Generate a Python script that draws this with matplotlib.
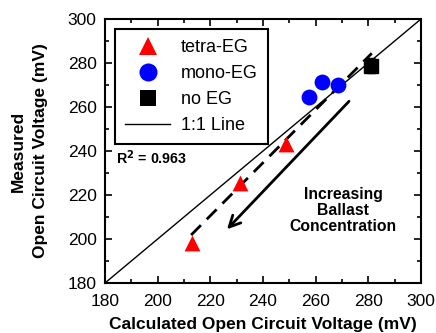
import matplotlib
matplotlib.use("Agg")
import matplotlib.pyplot as plt
from matplotlib.ticker import MultipleLocator
from matplotlib.lines import Line2D

plt.rcParams['font.family'] = ['Liberation Sans', 'DejaVu Sans']

tetra_x = [213.0, 231.3, 248.7]
tetra_y = [198.0, 225.5, 243.2]
mono_x = [257.3, 262.4, 268.5]
mono_y = [264.4, 271.4, 269.9]
noeg_x = [281.0]
noeg_y = [278.8]
noeg_err = [3.5]
line11 = [180, 300]
dash_x = [212.7, 281.3]
dash_y = [201.8, 284.4]
arrow_start = (273.4, 263.5)
arrow_end = (225.6, 203.5)

fig = plt.figure(figsize=(4.36, 3.33), dpi=100)
ax = fig.add_axes([105/436, 1-283/333, 316/436, 264/333])
ax.set_xlim(180, 300)
ax.set_ylim(180, 300)

ax.plot(line11, line11, color='black', lw=1.0, zorder=2)
ax.plot(dash_x, dash_y, color='black', lw=2.0, dashes=(5, 3), zorder=2)
ax.scatter(tetra_x, tetra_y, marker='^', s=130, color='red', zorder=3, linewidths=0)
ax.scatter(mono_x, mono_y, marker='o', s=130, color='blue', zorder=3, linewidths=0)
ax.errorbar(noeg_x, noeg_y, yerr=noeg_err, fmt='s', ms=10, color='black', ecolor='black',
            capsize=3, elinewidth=1, zorder=4)

ax.annotate('', xy=arrow_end, xytext=arrow_start,
            arrowprops=dict(arrowstyle='->,head_length=0.8,head_width=0.4', lw=2.0, color='black'))

ax.text(270.5, 213, 'Increasing\nBallast\nConcentration', ha='center', va='center',
        fontsize=11.3, fontweight='bold', linespacing=1.1)
ax.text(184.0, 237, r'R$^\mathbf{2}$ = 0.963', ha='left', va='center', fontsize=10.3, fontweight='bold')

handles = [
    Line2D([], [], ls='none', marker='^', ms=13, color='red', mew=0),
    Line2D([], [], ls='none', marker='o', ms=13, color='blue', mew=0),
    Line2D([], [], ls='none', marker='s', ms=11, color='black', mew=0),
    Line2D([], [], color='black', lw=1.0),
]
labels = ['tetra-EG', 'mono-EG', 'no EG', '1:1 Line']
leg = ax.legend(handles, labels,
                loc='upper left', bbox_to_anchor=(0.032, 0.962), borderaxespad=0, fontsize=13,
                frameon=True, fancybox=False, edgecolor='black', framealpha=1,
                borderpad=0.55, handlelength=2.5, handletextpad=0.6, labelspacing=0.5)
leg.get_frame().set_linewidth(1.5)

ax.xaxis.set_major_locator(MultipleLocator(20))
ax.yaxis.set_major_locator(MultipleLocator(20))
ax.xaxis.set_minor_locator(MultipleLocator(10))
ax.yaxis.set_minor_locator(MultipleLocator(10))
ax.tick_params(which='both', direction='in', top=True, right=True, labelsize=12.5, width=1.2)
ax.tick_params(which='major', length=5)
ax.tick_params(which='minor', length=3)
ax.tick_params(axis='x', pad=8)
ax.tick_params(axis='y', pad=6)
for s in ax.spines.values():
    s.set_linewidth(1.5)

ax.set_xlabel('Calculated Open Circuit Voltage (mV)', fontsize=12.5, fontweight='bold', labelpad=6)
ax.set_ylabel('Measured\nOpen Circuit Voltage (mV)', fontsize=12.5, fontweight='bold', labelpad=14,
              linespacing=1.6)

fig.savefig('out.png', dpi=100)
